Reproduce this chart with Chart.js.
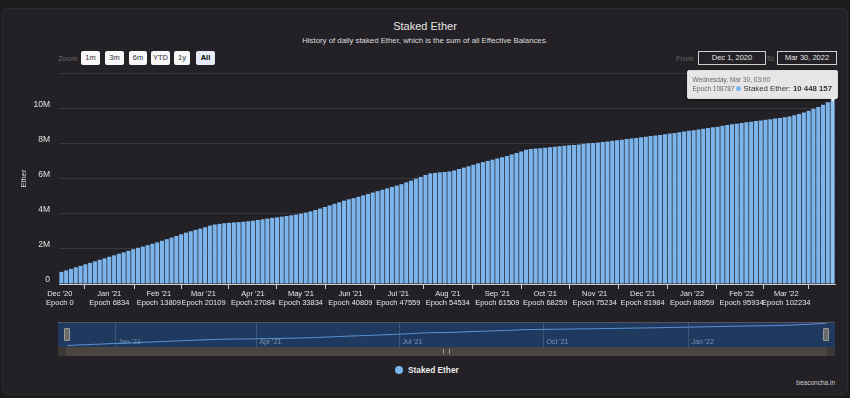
<!DOCTYPE html>
<html lang="en">
<head>
  <meta charset="UTF-8">
  <title>Staked Ether</title>
  <script src="https://cdn.jsdelivr.net/npm/chart.js"></script>
  <style>
    html, body { margin: 0; padding: 0; }
    body {
      width: 850px; height: 398px; overflow: hidden; position: relative;
      background: #1c1b1e;
      font-family: "Liberation Sans", Arial, sans-serif;
    }
    .card {
      position: absolute; left: 2px; top: 8px; width: 844px; height: 385px;
      background: #232125; border: 1px solid #2e2c30; border-radius: 6px;
    }
    .abs { position: absolute; }
    #title { left: 0; width: 850px; top: 20px; text-align: center; color: #e8e8e8; font-size: 11px; }
    #subtitle { left: 0; width: 850px; top: 36px; text-align: center; color: #dedede; font-size: 7.8px; }
    .lbl { color: #666; font-size: 7.5px; top: 54px; }
    .btn {
      top: 51px; height: 14px; line-height: 14px; text-align: center;
      background: #f7f7f7; color: #333; font-size: 7.5px; border-radius: 2px;
    }
    .btn.sel { background: #e6ebf5; font-weight: bold; color: #000; }
    .date {
      top: 51px; height: 12px; line-height: 12px; text-align: center;
      border: 1px solid #cfcfcf; color: #e6e6e6; font-size: 7.5px;
    }
    #tip {
      display: none; padding: 4px 5px 4px 5px; white-space: nowrap;
      background: rgba(247,247,247,0.92); border: 1px solid #dcdcdc; border-radius: 2px;
      box-shadow: 0 1px 3px rgba(0,0,0,0.4);
    }
    #tip:after {
      content: ""; position: absolute; right: 1px; bottom: -4px;
      border-left: 3px solid transparent; border-right: 3px solid transparent;
      border-top: 4px solid rgba(247,247,247,0.92);
    }
    .tip-date { color: #666; font-size: 6.5px; line-height: 9px; }
    .tip-body { color: #333; font-size: 7.8px; line-height: 10px; }
    .tip-epoch { color: #666; font-size: 6.5px; }
    .tip-dot { display: inline-block; width: 5px; height: 5px; border-radius: 50%; background: #7cb5ec; margin: 0 3px 0 1px; }
    .handle { width: 4px; height: 11px; background: #6b6b6b; border: 1px solid #9a9a9a; border-radius: 1px; top: 328px; }
    #track { left: 58px; top: 347px; width: 777px; height: 9px; background: #4a4541; }
    .sbtn { top: 347px; width: 8px; height: 9px; background: #3a3836; }
    #legend { top: 365px; left: 395px; color: #ececec; font-size: 8.3px; font-weight: bold; }
    #legend span { display: inline-block; width: 8px; height: 8px; border-radius: 50%; background: #7cb5ec; vertical-align: -1px; margin-right: 5px; }
    #credits { right: 15px; top: 379px; color: #cfcfcf; font-size: 6.5px; }
  </style>
</head>
<body>
  <div class="card"></div>
  <div id="title" class="abs">Staked Ether</div>
  <div id="subtitle" class="abs">History of daily staked Ether, which is the sum of all Effective Balances.</div>

  <!-- range selector -->
  <div class="abs lbl" style="left:58px">Zoom</div>
  <div class="abs btn" style="left:81px;width:19px">1m</div>
  <div class="abs btn" style="left:105px;width:19px">3m</div>
  <div class="abs btn" style="left:129px;width:18px">6m</div>
  <div class="abs btn" style="left:151px;width:19px">YTD</div>
  <div class="abs btn" style="left:174px;width:16px">1y</div>
  <div class="abs btn sel" style="left:196px;width:19px">All</div>
  <div class="abs lbl" style="left:676px">From</div>
  <div class="abs date" style="left:698px;width:66px">Dec 1, 2020</div>
  <div class="abs lbl" style="left:766px">To</div>
  <div class="abs date" style="left:777px;width:58px">Mar 30, 2022</div>

  <canvas id="main" class="abs" style="left:0;top:0" width="850" height="314"></canvas>
  <canvas id="nav" class="abs" style="left:0;top:318px" width="850" height="32"></canvas>

  <div id="track" class="abs"></div>
  <div class="abs sbtn" style="left:58px"></div>
  <div class="abs sbtn" style="left:827px"></div>
  <div class="abs" style="left:443px;top:349px;width:7px;height:5px;border-left:1px solid #999;border-right:1px solid #999;box-sizing:border-box"></div>
  <div class="abs handle" style="left:64px"></div>
  <div class="abs handle" style="left:823px"></div>

  <div id="legend" class="abs"><span></span></div>
  <div id="credits" class="abs">beaconcha.in</div>
  <div id="tip" class="abs"></div>

  <script>
    // series: staked Ether (millions), one bar per 3 days starting Dec 2, 2020
    const seriesName = 'Staked Ether';
    const firstBarDay = 1;   // days after Dec 1, 2020
    const barStepDays = 3;
    const stakedM = [
      0.69, 0.77, 0.86, 0.95, 1.03, 1.12, 1.20, 1.29, 1.38, 1.46, 1.55,
      1.63, 1.72, 1.80, 1.89, 1.98, 2.06, 2.13, 2.21, 2.29, 2.37,
      2.46, 2.55, 2.64, 2.73, 2.83, 2.92, 3.00, 3.08, 3.15,
      3.23, 3.32, 3.38, 3.42, 3.46, 3.48, 3.50, 3.52, 3.54, 3.57, 3.60,
      3.64, 3.68, 3.72, 3.76, 3.79, 3.83, 3.87, 3.91, 3.95, 4.00,
      4.06, 4.13, 4.21, 4.29, 4.38, 4.47, 4.56, 4.65, 4.74, 4.82,
      4.88, 4.96, 5.04, 5.12, 5.20, 5.28, 5.36, 5.44, 5.52, 5.60, 5.68,
      5.78, 5.88, 5.99, 6.09, 6.20, 6.29,
      6.32, 6.35, 6.37, 6.40,
      6.46, 6.54, 6.62, 6.70, 6.78, 6.86, 6.93, 7.00, 7.07, 7.14, 7.21, 7.28, 7.36, 7.45, 7.54, 7.63,
      7.68, 7.70, 7.72, 7.75,
      7.78, 7.80, 7.83, 7.86, 7.89, 7.91, 7.94, 7.97, 8.00, 8.02,
      8.05, 8.08, 8.11, 8.14, 8.17, 8.20, 8.24, 8.27, 8.30, 8.34,
      8.37, 8.41, 8.44, 8.48, 8.52, 8.56, 8.59, 8.63, 8.67, 8.71,
      8.75, 8.79, 8.83, 8.87, 8.91, 8.95, 9.00, 9.04, 9.08, 9.12,
      9.16, 9.20, 9.23, 9.27, 9.30, 9.34, 9.37, 9.41, 9.44, 9.48,
      9.53, 9.60, 9.67, 9.76, 9.86, 9.96, 10.06, 10.20, 10.33, 10.448157
    ];

    // x axis ticks
    const tickDates = ['2020-12-01', '2021-01-01', '2021-02-01', '2021-03-01', '2021-04-01', '2021-05-01',
      '2021-06-01', '2021-07-01', '2021-08-01', '2021-09-01', '2021-10-01', '2021-11-01', '2021-12-01',
      '2022-01-01', '2022-02-01', '2022-03-01'];
    const tickMonths = ["Dec '20", "Jan '21", "Feb '21", "Mar '21", "Apr '21", "May '21", "Jun '21", "Jul '21",
      "Aug '21", "Sep '21", "Oct '21", "Nov '21", "Dec '21", "Jan '22", "Feb '22", "Mar '22"];
    const tickEpochs = [0, 6834, 13809, 20109, 27084, 33834, 40809, 47559, 54534, 61509, 68259, 75234,
      81984, 88959, 95934, 102234];
    const yTicks = [0, 2e6, 4e6, 6e6, 8e6, 10e6, 12e6];

    // navigator ticks
    const navTickDates = ['2021-01-01', '2021-04-01', '2021-07-01', '2021-10-01', '2022-01-01'];
    const navTickLabels = ["Jan '21", "Apr '21", "Jul '21", "Oct '21", "Jan '22"];

    // tooltip of the hovered (last) point
    const tipDate = 'Wednesday, Mar 30, 03:00';
    const tipEpoch = 108787;

    const DAY = 86400000;
    const origin = Date.UTC(2020, 11, 1);
    const dayOf = s => Math.round((Date.parse(s + 'T00:00:00Z') - origin) / DAY);
    const tickDays = tickDates.map(dayOf);
    const navTickDays = navTickDates.map(dayOf);
    const points = stakedM.map((v, i) => ({ x: firstBarDay + i * barStepDays, y: Math.round(v * 1e6) }));
    const lastDay = points[points.length - 1].x;

    const fmt = n => String(Math.round(n)).replace(/\B(?=(\d{3})+(?!\d))/g, ' ');

    Chart.defaults.font.family = '"Liberation Sans", Arial, sans-serif';
    Chart.defaults.color = '#e0e0e0';

    function externalTooltip(context) {
      const { chart, tooltip } = context;
      const el = document.getElementById('tip');
      if (tooltip.opacity === 0 || !tooltip.dataPoints || !tooltip.dataPoints.length) {
        el.style.display = 'none';
        return;
      }
      const dp = tooltip.dataPoints[0];
      el.innerHTML = '<div class="tip-date">' + tipDate + '</div>' +
        '<div class="tip-body"><span class="tip-epoch">Epoch ' + tipEpoch + '</span>' +
        '<span class="tip-dot"></span>' + dp.dataset.label + ': <b>' + fmt(dp.raw.y) + '</b></div>';
      el.style.display = 'block';
      const x = chart.canvas.offsetLeft + tooltip.caretX;
      const y = chart.canvas.offsetTop + tooltip.caretY;
      el.style.left = (x + 5 - el.offsetWidth) + 'px';
      el.style.top = (y - 1 - el.offsetHeight) + 'px';
    }

    const mainChart = new Chart(document.getElementById('main'), {
      type: 'bar',
      data: {
        datasets: [{
          label: seriesName,
          data: points,
          backgroundColor: '#7cb5ec',
          hoverBackgroundColor: '#8fc3f2',
          borderWidth: 0,
          barPercentage: 0.85,
          categoryPercentage: 1
        }]
      },
      options: {
        responsive: false,
        animation: false,
        events: [],
        layout: { padding: { left: 0, right: 15, top: 73, bottom: 0 } },
        scales: {
          x: {
            type: 'linear',
            offset: false,
            min: firstBarDay - 1.5,
            max: lastDay + 1.5,
            afterBuildTicks: scale => { scale.ticks = tickDays.map(d => ({ value: d })); },
            afterFit: scale => { scale.height = 30; },
            grid: { display: true, drawOnChartArea: false, drawTicks: true, tickLength: 5, color: '#cccccc' },
            border: { display: true, color: '#cccccc' },
            ticks: {
              autoSkip: false, maxRotation: 0, padding: 1,
              color: '#e6e6e6',
              font: { size: 7.5, lineHeight: 1.15 },
              callback: (v, i) => [tickMonths[i], 'Epoch ' + tickEpochs[i]]
            }
          },
          y: {
            min: 0,
            max: 12e6,
            afterBuildTicks: scale => { scale.ticks = yTicks.map(v => ({ value: v })); },
            afterFit: scale => { scale.width = 59; },
            grid: { color: '#39373b', drawTicks: false },
            border: { display: false },
            title: { display: true, text: 'Ether', color: '#dddddd', font: { size: 7.5 }, padding: { top: 19, bottom: 0 } },
            ticks: {
              padding: 9, labelOffset: -4,
              color: '#e0e0e0',
              font: { size: 8.5 },
              callback: v => v === 0 ? '0' : (v >= 12e6 ? '' : (v / 1e6) + 'M')
            }
          }
        },
        plugins: {
          legend: { display: false },
          tooltip: { enabled: false, external: externalTooltip, mode: 'nearest', intersect: false }
        }
      }
    });

    const lastIdx = points.length - 1;
    const lastBar = mainChart.getDatasetMeta(0).data[lastIdx];
    mainChart.setActiveElements([{ datasetIndex: 0, index: lastIdx }]);
    mainChart.tooltip.setActiveElements([{ datasetIndex: 0, index: lastIdx }], { x: lastBar.x, y: lastBar.y });
    mainChart.update();

    // navigator
    const navPlugin = {
      id: 'navDecor',
      beforeDatasetsDraw(chart) {
        const { ctx, chartArea } = chart;
        const xs = chart.scales.x;
        ctx.save();
        ctx.fillStyle = '#1f3a5e';
        ctx.fillRect(58, chartArea.top, 777, chartArea.bottom - chartArea.top);
        ctx.strokeStyle = 'rgba(255,255,255,0.13)';
        ctx.lineWidth = 1;
        ctx.font = '7px "Liberation Sans", Arial, sans-serif';
        ctx.fillStyle = '#7f92b3';
        ctx.textBaseline = 'alphabetic';
        navTickDays.forEach((d, i) => {
          const px = Math.round(xs.getPixelForValue(d)) + 0.5;
          ctx.beginPath();
          ctx.moveTo(px, chartArea.top);
          ctx.lineTo(px, chartArea.bottom);
          ctx.stroke();
          ctx.fillText(navTickLabels[i], px + 3, chartArea.bottom - 3);
        });
        ctx.restore();
      },
      afterDatasetsDraw(chart) {
        const { ctx, chartArea } = chart;
        ctx.save();
        ctx.strokeStyle = '#56545a';
        ctx.lineWidth = 1;
        ctx.beginPath();
        ctx.moveTo(58, chartArea.top + 0.5);
        ctx.lineTo(835, chartArea.top + 0.5);
        ctx.stroke();
        ctx.restore();
      }
    };

    new Chart(document.getElementById('nav'), {
      type: 'line',
      data: {
        datasets: [{
          label: seriesName,
          data: points,
          borderColor: '#5f93d3',
          borderWidth: 1,
          pointRadius: 0,
          fill: false,
          tension: 0
        }]
      },
      options: {
        responsive: false,
        animation: false,
        events: [],
        layout: { padding: { left: 66, right: 24, top: 4, bottom: 3 } },
        scales: {
          x: { type: 'linear', display: false, min: 0, max: lastDay },
          y: { display: false, min: 0, max: 11e6 }
        },
        plugins: { legend: { display: false }, tooltip: { enabled: false } }
      },
      plugins: [navPlugin]
    });

    document.getElementById('legend').appendChild(document.createTextNode(mainChart.data.datasets[0].label));
  </script>
</body>
</html>
